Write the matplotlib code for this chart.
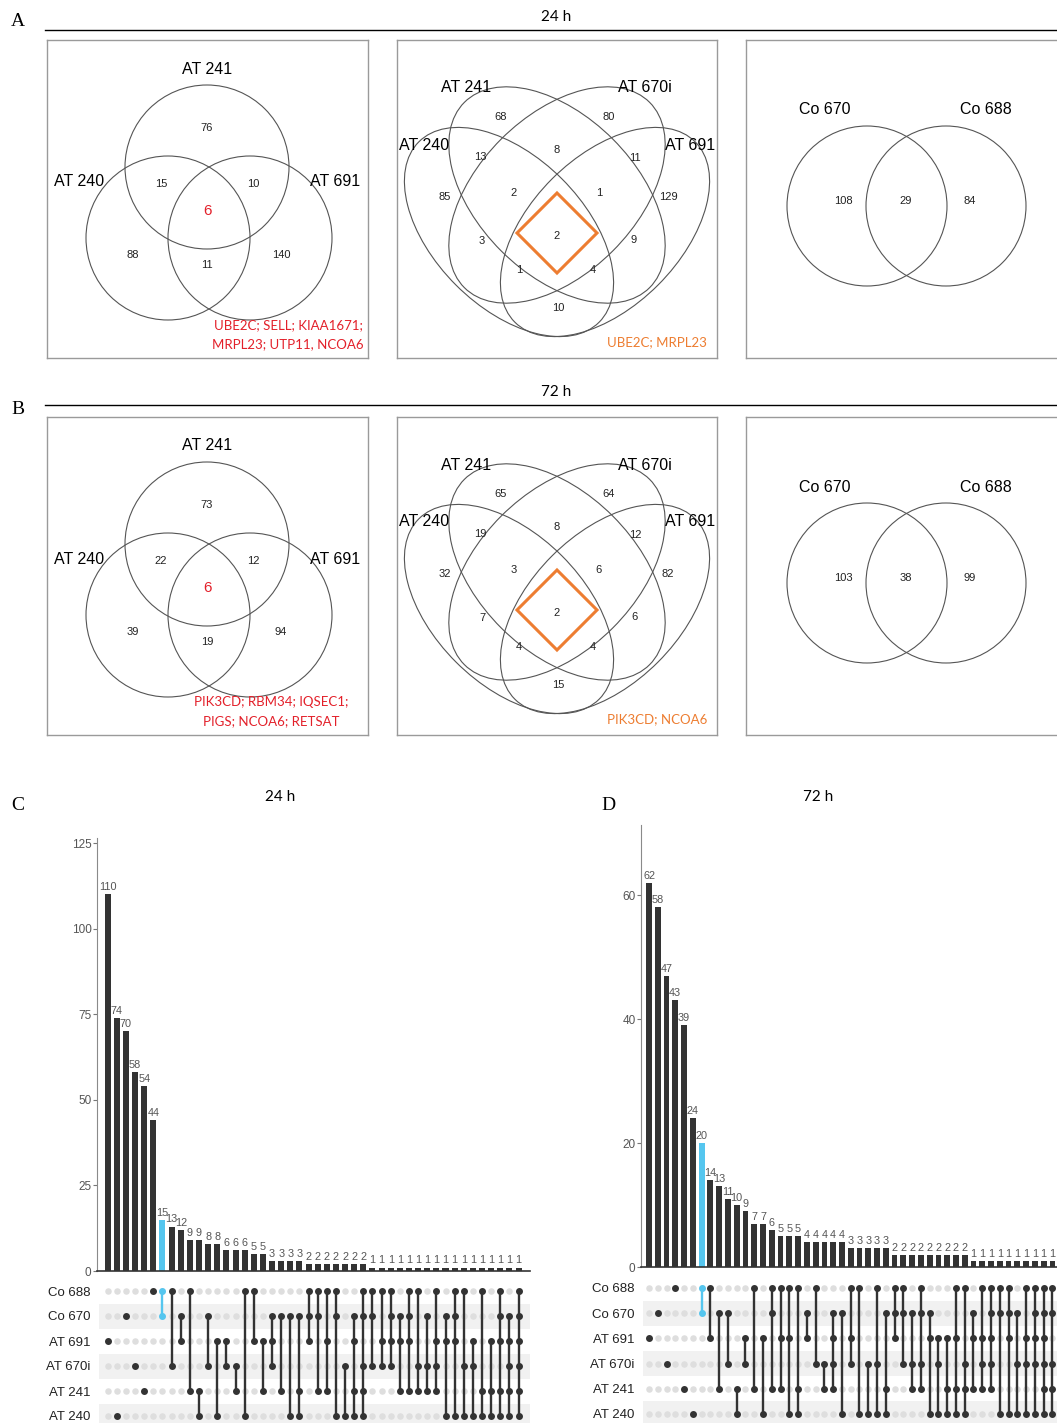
import matplotlib
matplotlib.use("Agg")
import matplotlib.pyplot as plt
from matplotlib.patches import Circle, Ellipse, Polygon
import numpy as np

plt.rcParams['font.family'] = ['Liberation Sans', 'DejaVu Sans']

# ---------------- data ----------------
# 3-set venn: AT 240 only, AT 241 only, AT 691 only, 240&241, 240&691, 241&691, all three
venn3_24h = [88, 76, 140, 15, 11, 10, 6]
venn3_72h = [39, 73, 94, 22, 19, 12, 6]
genes3_24h = ["UBE2C; SELL; KIAA1671;", "MRPL23; UTP11, NCOA6"]
genes3_72h = ["PIK3CD; RBM34; IQSEC1;", "PIGS; NCOA6; RETSAT"]

# 4-set venn (A=AT 240, B=AT 241, C=AT 670i, D=AT 691)
# regions: B, C, AB, BC, CD, A, ABC, BCD, D, AC, ABCD, BD, ACD, ABD, AD
venn4_24h = [68, 80, 13, 8, 11, 85, 2, 1, 129, 3, 2, 9, 1, 4, 10]
venn4_72h = [65, 64, 19, 8, 12, 32, 3, 6, 82, 7, 2, 6, 4, 4, 15]
genes4_24h = "UBE2C; MRPL23"
genes4_72h = "PIK3CD; NCOA6"

# 2-set venn: Co 670 only, both, Co 688 only
venn2_24h = [108, 29, 84]
venn2_72h = [103, 38, 99]

upset_sets = ["Co 688", "Co 670", "AT 691", "AT 670i", "AT 241", "AT 240"]

counts_24h = [110, 74, 70, 58, 54, 44, 15, 13, 12, 9, 9, 8, 8, 6, 6, 6, 5, 5,
              3, 3, 3, 3, 2, 2, 2, 2, 2, 2, 2] + [1] * 17
combos_24h = ["001000", "000001", "010000", "000100", "000010", "100000",
              "110000", "100100", "011000", "100010", "000011", "010100",
              "001001", "001100", "000110", "100001", "101000", "001010",
              "011100", "010010", "010001", "010011", "111000", "110010",
              "101010", "110001", "000101", "011011", "110111", "110100",
              "101100", "111100", "011010", "111010", "100110", "010110",
              "101110", "011001", "111001", "100101", "001101", "100011",
              "001011", "111011", "011111", "111111"]

counts_72h = [62, 58, 47, 43, 39, 24, 20, 14, 13, 11, 10, 9, 7, 7, 6, 5, 5, 5,
              4, 4, 4, 4, 4, 3, 3, 3, 3, 3, 2, 2, 2, 2, 2, 2, 2, 2, 2] + [1] * 10
combos_72h = ["001000", "010000", "000100", "100000", "000010", "000001",
              "110000", "101000", "010010", "010100", "000011", "001100",
              "100010", "001001", "110010", "101010", "101001", "100011",
              "011000", "100100", "000110", "011110", "010001", "101100",
              "100001", "000101", "100101", "010011", "111000", "110100",
              "010110", "110110", "011001", "001101", "001011", "101011",
              "100111", "011010", "101110", "111110", "110001", "111001",
              "010101", "101101", "111101", "111111", "110111"]
highlight_col = 6

# ---------------- layout ----------------
W, H = 1057, 1423
fig = plt.figure(figsize=(W / 100, H / 100), dpi=100)


def px_axes(x0, y0, x1, y1):
    return fig.add_axes([x0 / W, 1 - y1 / H, (x1 - x0) / W, (y1 - y0) / H])


over = px_axes(0, 0, W, H)
over.set_xlim(0, W)
over.set_ylim(H, 0)
over.axis('off')

RED = '#e3202a'
ORANGE = '#ed7d31'
BLUE = '#55c6ef'
DARK = '#333333'

for letter, (x, y) in zip("ABCD", [(18, 22), (18, 410), (18, 806), (608, 806)]):
    over.text(x, y, letter, fontsize=14, family='Liberation Serif', ha='center', va='center')
for title, y in [("24 h", 17), ("72 h", 392)]:
    over.text(556, y, title, fontsize=11, ha='center', va='center', family='Lato')
    over.plot([45, W], [y + 13, y + 13], color='black', lw=1)
over.text(280, 797, "24 h", fontsize=11, ha='center', va='center', family='Lato')
over.text(818, 797, "72 h", fontsize=11, ha='center', va='center', family='Lato')


def venn_box(x0, y0, x1, y1):
    ax = px_axes(x0, y0, x1, y1)
    ax.set_xlim(x0, x1)
    ax.set_ylim(y1, y0)
    ax.set_xticks([])
    ax.set_yticks([])
    for s in ax.spines.values():
        s.set_color('#9a9a9a')
        s.set_linewidth(1)
    return ax


def draw_venn3(dy, values, genes, gx):
    ax = venn_box(47, 40 + dy, 368, 358 + dy)
    for cx, cy in [(207, 167), (168, 238), (250, 238)]:
        ax.add_patch(Circle((cx, cy + dy), 82, fill=False, ec='#555555', lw=0.8))
    ax.text(207, 69 + dy, "AT 241", fontsize=11.5, ha='center', va='center')
    ax.text(79, 182 + dy, "AT 240", fontsize=11.5, ha='center', va='center')
    ax.text(335, 182 + dy, "AT 691", fontsize=11.5, ha='center', va='center')
    pos = [(133, 255), (207, 128), (281, 255), (161, 184), (207, 265), (253, 184)]
    for (x, y), v in zip(pos, values[:6]):
        ax.text(x, y + dy, str(v), fontsize=8, ha='center', va='center', color='#222222')
    ax.text(207, 211 + dy, str(values[6]), fontsize=11, ha='center', va='center', color=RED)
    ax.text(gx, 325 + dy, genes[0], fontsize=9.5, ha='center', va='center', color=RED, family='Lato')
    ax.text(gx, 344 + dy, genes[1], fontsize=9.5, ha='center', va='center', color=RED, family='Lato')


def draw_venn4(dy, values, genes):
    ax = venn_box(397, 40 + dy, 717, 358 + dy)
    shapes = [((509, 232), 45, 255, 150), ((557, 195), 45, 262, 158),
              ((557, 195), -45, 262, 158), ((605, 232), -45, 255, 150)]
    for (cx, cy), ang, w, h in shapes:
        ax.add_patch(Ellipse((cx, cy + dy), w, h, angle=ang, fill=False, ec='#555555', lw=0.8))
    ax.add_patch(Polygon([(557, 193 + dy), (597, 233 + dy), (557, 273 + dy), (517, 233 + dy)],
                         closed=True, fill=False, ec=ORANGE, lw=2.2))
    for lab, x, y in [("AT 241", 466, 88), ("AT 670i", 645, 88), ("AT 240", 424, 145), ("AT 691", 690, 145)]:
        ax.text(x, y + dy, lab, fontsize=11.5, ha='center', va='center')
    pos = [(501, 117), (609, 117), (480, 157), (557, 150), (635, 158), (445, 197),
           (514, 193), (599, 193), (668, 197), (482, 241), (557, 236), (634, 240),
           (519, 270), (593, 270), (558, 308)]
    for (x, y), v in zip(pos, values):
        ax.text(x, y + dy, str(v), fontsize=8, ha='center', va='center', color='#222222')
    ax.text(657, 342 + dy, genes, fontsize=9.5, ha='center', va='center', color=ORANGE, family='Lato')


def draw_venn2(dy, values):
    ax = venn_box(746, 40 + dy, 1067, 358 + dy)
    for cx in [867, 946]:
        ax.add_patch(Circle((cx, 206 + dy), 80, fill=False, ec='#555555', lw=0.8))
    ax.text(825, 110 + dy, "Co 670", fontsize=11.5, ha='center', va='center')
    ax.text(986, 110 + dy, "Co 688", fontsize=11.5, ha='center', va='center')
    for x, v in zip([843, 906, 970], values):
        ax.text(x, 201 + dy, str(v), fontsize=8, ha='center', va='center', color='#222222')


draw_venn3(0, venn3_24h, genes3_24h, 288)
draw_venn3(377, venn3_72h, genes3_72h, 271)
draw_venn4(0, venn4_24h, genes4_24h)
draw_venn4(377, venn4_72h, genes4_72h)
draw_venn2(0, venn2_24h)
draw_venn2(377, venn2_72h)


def draw_upset(bar_box, mat_box, x_first, step, ymax, yticks, counts, combos):
    n = len(counts)
    xl = -(x_first - bar_box[0]) / step
    xr = xl + (bar_box[2] - bar_box[0]) / step
    xs = np.arange(n)

    ax = px_axes(*bar_box)
    colors = [BLUE if i == highlight_col else DARK for i in xs]
    ax.bar(xs, counts, width=0.66, color=colors)
    for i, v in zip(xs, counts):
        ax.annotate(str(v), (i, v), xytext=(0, 1.5), textcoords='offset points',
                    ha='center', va='bottom', fontsize=7.8, color='#555555')
    ax.set_xlim(xl, xr)
    ax.set_ylim(0, ymax)
    ax.set_xticks([])
    ax.set_yticks(yticks)
    ax.tick_params(axis='y', length=3, color='#777777', labelsize=8.5, labelcolor='#555555', pad=1)
    ax.spines['top'].set_visible(False)
    ax.spines['right'].set_visible(False)
    ax.spines['left'].set_color('#8a8a8a')
    ax.spines['bottom'].set_color('#333333')
    ax.spines['bottom'].set_linewidth(1.2)
    ax.patch.set_alpha(0)

    mx = px_axes(*mat_box)
    mx.set_xlim(xl, xr)
    mx.set_ylim(5.5, -0.5)
    for r in [1, 3, 5]:
        mx.axhspan(r - 0.5, r + 0.5, xmin=0.005, color='#f1f1f1', lw=0)
    gx, gy = np.meshgrid(xs, np.arange(6))
    mx.scatter(gx.ravel(), gy.ravel(), s=22, color='#dedede', lw=0, zorder=2)
    for i, combo in enumerate(combos):
        rows = [r for r, c in enumerate(combo) if c == '1']
        col = BLUE if i == highlight_col else DARK
        if len(rows) > 1:
            mx.plot([i, i], [min(rows), max(rows)], color=col, lw=1.7, zorder=3)
        mx.scatter([i] * len(rows), rows, s=25, color=col, lw=0, zorder=4)
    mx.set_xticks([])
    mx.set_yticks(range(6))
    mx.set_yticklabels(upset_sets, fontsize=9.5, color='#222222')
    mx.tick_params(axis='y', length=0, pad=5)
    for s in mx.spines.values():
        s.set_visible(False)


draw_upset((97, 838, 530, 1271), (97, 1278.5, 530, 1428.5), 107.7, 9.13, 126.5,
           [0, 25, 50, 75, 100, 125], counts_24h, combos_24h)
draw_upset((641, 825, 1062, 1267), (641, 1275.4, 1062, 1426.6), 649.0, 8.77, 71.3,
           [0, 20, 40, 60], counts_72h, combos_72h)

fig.savefig("out.png", dpi=100)
